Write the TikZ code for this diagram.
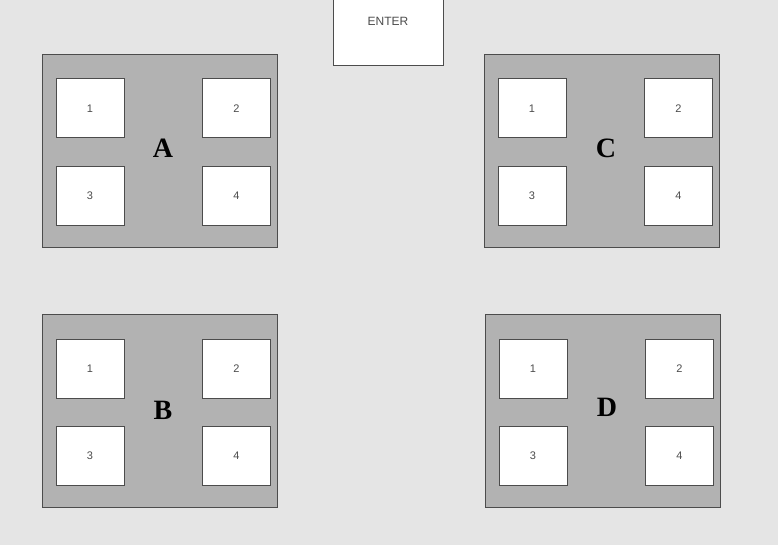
\documentclass[tikz,border=0pt]{standalone}
\usepackage{fontspec}
\setmainfont{Liberation Sans}
\newfontfamily\letterfont{Liberation Serif}

\begin{document}
\begin{tikzpicture}[
    x=1pt, y=-1pt,
    group/.style={rectangle, draw=black!70, fill=black!30, line width=1pt,
                  minimum width=235pt, minimum height=193pt,
                  anchor=north west, inner sep=0pt},
    seat/.style={rectangle, draw=black!70, fill=white, line width=1pt,
                 minimum width=68pt, minimum height=59pt,
                 font=\fontsize{11}{11}\selectfont, text=black!70},
    door/.style={seat, minimum width=110pt, minimum height=66pt,
                 anchor=north west, font=\fontsize{12}{12}\selectfont},
    tag/.style={font=\letterfont\bfseries\fontsize{28}{28}\selectfont}
]
  % background and page size
  \fill[black!10] (0,0) rectangle (778,545);
  \useasboundingbox (0,0) rectangle (778,545);

  % entrance at the top
  \node[door] (enter) at (333,-1) {};
  \node[font=\fontsize{12}{12}\selectfont, text=black!70] (entertext) at (388,21) {ENTER};

  % four groups of seats
  \foreach \g/\gx/\gy/\tx/\ty in {A/42/54/121/94, C/484/54/122/94,
                                  B/42/314/121/96, D/485/314/122/93} {
    \node[group] (\g) at (\gx,\gy) {};
    \node[seat] (\g-1) at (\gx+48,\gy+54.5) {1};
    \node[seat] (\g-2) at (\gx+194.5,\gy+54.5) {2};
    \node[seat] (\g-3) at (\gx+48,\gy+142) {3};
    \node[seat] (\g-4) at (\gx+194.5,\gy+142) {4};
    \node[tag] (\g-tag) at (\gx+\tx,\gy+\ty) {\g};
  }
\end{tikzpicture}
\end{document}
